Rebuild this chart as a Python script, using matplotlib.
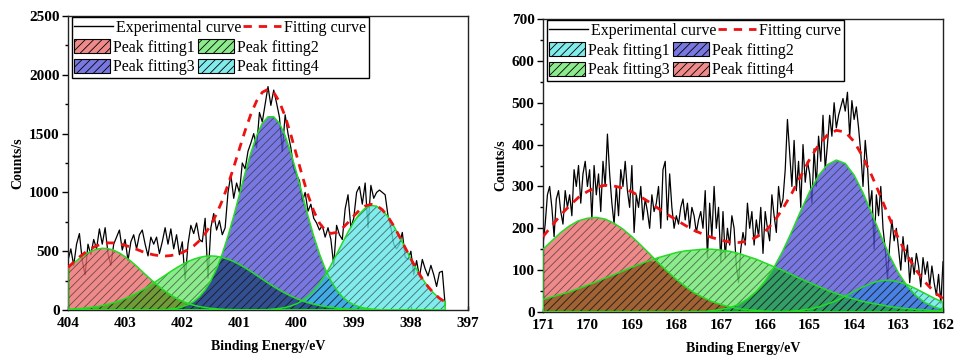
import matplotlib
matplotlib.use("Agg")
import matplotlib.pyplot as plt
import numpy as np
from matplotlib.lines import Line2D
from matplotlib.patches import Patch, Rectangle
from matplotlib.ticker import MultipleLocator
from matplotlib.transforms import Bbox, IdentityTransform

plt.rcParams["font.family"] = ["Liberation Serif", "DejaVu Serif"]
plt.rcParams["hatch.linewidth"] = 0.6

# ---- left panel: N 1s, 404 -> 397.4 eV ----
n1s_exp_range = (404.0, 397.4)   # sampled every 0.05 eV
n1s_counts = [
    420, 520, 380, 560, 650, 420, 300, 560, 470, 600,
    520, 690, 560, 700, 480, 380, 560, 620, 680, 510,
    600, 420, 580, 640, 520, 640, 680, 560, 460, 620,
    560, 620, 480, 580, 700, 560, 690, 520, 640, 470,
    580, 260, 560, 720, 650, 740, 600, 580, 780, 270,
    700, 820, 680, 760, 640, 700, 1000, 1150, 950, 1080,
    1000, 1250, 1200, 1350, 1420, 1500, 1380, 1680, 1600, 1750,
    1900, 1740, 1870, 1760, 1640, 1350, 1660, 1500, 1380, 1200,
    1150, 1100, 920, 1000, 840, 900, 780, 740, 680, 720,
    620, 700, 600, 380, 720, 640, 600, 860, 980, 700,
    780, 1000, 1050, 900, 1080, 700, 1060, 950, 1000, 1020,
    1000, 980, 800, 700, 560, 520, 560, 660, 450, 430,
    500, 300, 420, 280, 430, 350, 290, 380, 300, 200,
    320, 330, 40,
]

n1s_peak_range = (404.0, 397.4)  # sampled every 0.1 eV
n1s_peak1 = [
    355, 398, 439, 473, 500, 517, 525, 522, 508, 485,
    453, 415, 373, 327, 282, 238, 197, 160, 127, 99,
    75, 56, 41, 29, 21, 14, 10, 6, 4, 3, 2, 1,
] + [0] * 35
n1s_peak2 = [
    6, 9, 12, 16, 22, 29, 38, 49, 62, 78,
    97, 119, 143, 170, 199, 230, 263, 295, 328, 359,
    387, 412, 432, 447, 457, 460, 457, 447, 432, 412,
    387, 359, 328, 295, 263, 230, 199, 170, 143, 119,
    97, 78, 62, 49, 38, 29, 22, 16, 12, 9,
    6, 4, 3, 2, 1, 1, 0, 0, 0, 0,
    0, 0, 0, 0, 0, 0, 0,
]
n1s_peak3 = [0] * 15 + [
    1, 2, 4, 8, 15, 27, 45, 72, 113, 171,
    249, 351, 478, 629, 799, 982, 1166, 1337, 1482, 1588,
    1643, 1643, 1588, 1482, 1337, 1166, 982, 799, 629, 478,
    351, 249, 171, 113, 72, 45, 27, 15, 8, 4, 2, 1,
] + [0] * 10
n1s_peak4 = [0] * 35 + [
    4, 8, 13, 21, 34, 53, 80, 116, 164, 224,
    297, 380, 473, 569, 663, 748, 818, 866, 889, 883,
    850, 792, 715, 626, 530, 435, 346, 266, 199, 143,
    100, 68,
]

# ---- right panel: S 2p, 171 -> 162 eV ----
s2p_exp_range = (171.0, 162.0)   # sampled every 0.05 eV
s2p_counts = [
    160, 210, 280, 300, 250, 180, 270, 290, 240, 210,
    290, 250, 280, 230, 340, 300, 350, 260, 330, 360,
    300, 340, 220, 350, 280, 330, 240, 360, 300, 425,
    330, 260, 210, 300, 230, 340, 300, 360, 290, 250,
    350, 190, 280, 250, 300, 220, 270, 240, 200, 280,
    240, 260, 300, 200, 340, 360, 220, 330, 250, 200,
    230, 210, 250, 270, 220, 260, 200, 250, 230, 190,
    220, 240, 200, 290, 130, 260, 180, 300, 200, 250,
    120, 240, 130, 200, 160, 230, 200, 110, 70, 150,
    190, 160, 260, 200, 240, 160, 220, 180, 250, 140,
    240, 200, 170, 280, 230, 190, 300, 250, 270, 340,
    460, 380, 300, 410, 290, 360, 250, 400, 310, 360,
    330, 260, 390, 300, 420, 360, 470, 340, 400, 470,
    420, 500, 440, 470, 490, 510, 480, 525, 420, 505,
    460, 490, 440, 380, 300, 410, 350, 250, 290, 150,
    280, 230, 300, 200, 150, 80, 160, 220, 170, 200,
    150, 100, 180, 120, 160, 70, 130, 90, 140, 110,
    60, 130, 90, 120, 60, 110, 70, 40, 90, 20,
    120,
]

s2p_peak_range = (171.0, 162.0)  # sampled every 0.2 eV
s2p_peak1 = [0] * 27 + [
    1, 2, 4, 7, 12, 19, 27, 38, 49, 60,
    69, 75, 76, 72, 65, 55, 44, 33, 23,
]
s2p_peak2 = [0] * 17 + [
    1, 1, 3, 6, 10, 18, 31, 49, 74, 107,
    147, 193, 242, 288, 326, 352, 363, 355, 327, 285,
    235, 183, 134, 93, 61, 38, 22, 12, 6,
]
s2p_peak3 = [
    30, 36, 42, 48, 56, 64, 72, 81, 89, 98,
    107, 115, 123, 130, 136, 142, 146, 148, 150,
    150, 148, 145, 140, 133, 126, 117, 108, 99, 89,
    79, 70, 61, 52, 44, 37, 31, 25, 21, 17,
    13, 10, 8, 6, 5, 3, 3,
]
s2p_peak4 = [
    150, 170, 190, 206, 218, 224, 226, 222, 212, 198,
    180, 160, 139, 117, 97, 78, 61, 46, 35, 25,
    18, 12, 8, 5, 4, 2, 1, 1,
] + [0] * 18

peak_labels = ["Peak fitting1", "Peak fitting2", "Peak fitting3", "Peak fitting4"]

RED = "#ec6d6d"
GREEN = "#6fe66f"
BLUE = "#5656d9"
CYAN = "#63e6e6"
EDGE = "#22dd22"
FILL_ALPHA = 0.8
HATCH = "////"


def draw_panel(ax, exp_range, counts, peak_range, peaks, colors, overlaps,
               xlim, ylim, major, minor):
    exp_x = np.linspace(exp_range[0], exp_range[1], len(counts))
    px = np.linspace(peak_range[0], peak_range[1], len(peaks[0]))
    peaks = [np.asarray(p, dtype=float) for p in peaks]
    fit = np.sum(peaks, axis=0)

    ax.plot(exp_x, counts, color="black", lw=0.9, zorder=1)

    for p, c in zip(peaks, colors):
        ax.fill_between(px, 0, p, facecolor=c, alpha=FILL_ALPHA, lw=0, zorder=2)

    # darker colour where two components overlap
    for i, j, c in overlaps:
        ax.fill_between(px, 0, np.minimum(peaks[i], peaks[j]),
                        facecolor=c, alpha=0.9, lw=0, zorder=2.5)

    for p in peaks:
        ax.fill_between(px, 0, p, facecolor="none",
                        edgecolor=(0.1, 0.1, 0.1, 0.6), hatch=HATCH,
                        lw=0, zorder=3)
        ax.fill_between(px, 0, p, facecolor="none", edgecolor=EDGE,
                        lw=1.1, zorder=4)

    ax.plot(px, fit, color="#ee1111", lw=2, linestyle=(0, (3, 2.5)), zorder=5)

    ax.set_xlim(*xlim)
    ax.set_ylim(*ylim)
    ax.xaxis.set_major_locator(MultipleLocator(1))
    ax.yaxis.set_major_locator(MultipleLocator(major))
    ax.yaxis.set_minor_locator(MultipleLocator(minor))
    ax.tick_params(axis="y", which="major", direction="out", length=4,
                   width=1, pad=2, labelsize=11)
    ax.tick_params(axis="y", which="minor", direction="out", length=2, width=1)
    ax.tick_params(axis="x", which="major", direction="in", length=3,
                   width=1, pad=5, labelsize=11)
    for lab in ax.get_xticklabels() + ax.get_yticklabels():
        lab.set_fontweight("bold")
    for sp in ax.spines.values():
        sp.set_linewidth(1.0)
        sp.set_color("#222222")

    ax.set_xlabel("Binding Energy/eV", fontsize=10, fontweight="bold",
                  labelpad=7)
    ax.set_ylabel("Counts/s", fontsize=10, fontweight="bold", labelpad=3)

    # legend: line row on top, 2x2 patch block below, one shared frame
    exp_h = Line2D([], [], color="black", lw=1.0)
    fit_h = Line2D([], [], color="#ee1111", lw=2, linestyle=(0, (3, 2.5)))
    leg1 = ax.legend([exp_h, fit_h], ["Experimental curve", "Fitting curve"],
                     ncol=2, loc="upper left", bbox_to_anchor=(0.01, 0.995),
                     frameon=False, borderaxespad=0, borderpad=0.15,
                     handlelength=2.4, handletextpad=0.2, columnspacing=0.1,
                     fontsize=11.5)
    ax.add_artist(leg1)
    patches = [Patch(facecolor=matplotlib.colors.to_rgba(c, FILL_ALPHA),
                     edgecolor="black", hatch=HATCH, lw=0.8) for c in colors]
    order = [0, 2, 1, 3]
    leg2 = ax.legend([patches[k] for k in order],
                     [peak_labels[k] for k in order],
                     ncol=2, loc="upper left", bbox_to_anchor=(0.01, 0.93),
                     frameon=False, borderaxespad=0, borderpad=0.15,
                     handlelength=2.2, handleheight=1.0, handletextpad=0.2,
                     columnspacing=0.25, labelspacing=0.2, fontsize=11.5)
    return leg1, leg2


fig = plt.figure(figsize=(9.67, 3.62), dpi=100)
ax1 = fig.add_axes([0.0703, 0.1436, 0.4137, 0.8122])
ax2 = fig.add_axes([0.5615, 0.1381, 0.4137, 0.8094])

legs = []
legs.append(draw_panel(
    ax1, n1s_exp_range, n1s_counts, n1s_peak_range,
    [n1s_peak1, n1s_peak2, n1s_peak3, n1s_peak4],
    [RED, GREEN, BLUE, CYAN],
    [(0, 1, "#6e9632"), (2, 3, "#3ca8e6"), (1, 2, "#2d4b8c")],
    (404, 397), (0, 2500), 500, 250,
))
legs.append(draw_panel(
    ax2, s2p_exp_range, s2p_counts, s2p_peak_range,
    [s2p_peak1, s2p_peak2, s2p_peak3, s2p_peak4],
    [CYAN, BLUE, GREEN, RED],
    [(3, 2, "#9b5f2d"), (1, 0, "#4682e6"), (2, 1, "#2d9a64")],
    (171, 162), (0, 700), 100, 50,
))

fig.canvas.draw()
renderer = fig.canvas.get_renderer()
for leg1, leg2 in legs:
    bb = Bbox.union([leg1.get_window_extent(renderer),
                     leg2.get_window_extent(renderer)])
    fig.add_artist(Rectangle((bb.x0, bb.y0), bb.width, bb.height,
                             transform=IdentityTransform(), fill=False,
                             edgecolor="black", lw=1.0, zorder=10))

fig.savefig("out.png", dpi=100)
